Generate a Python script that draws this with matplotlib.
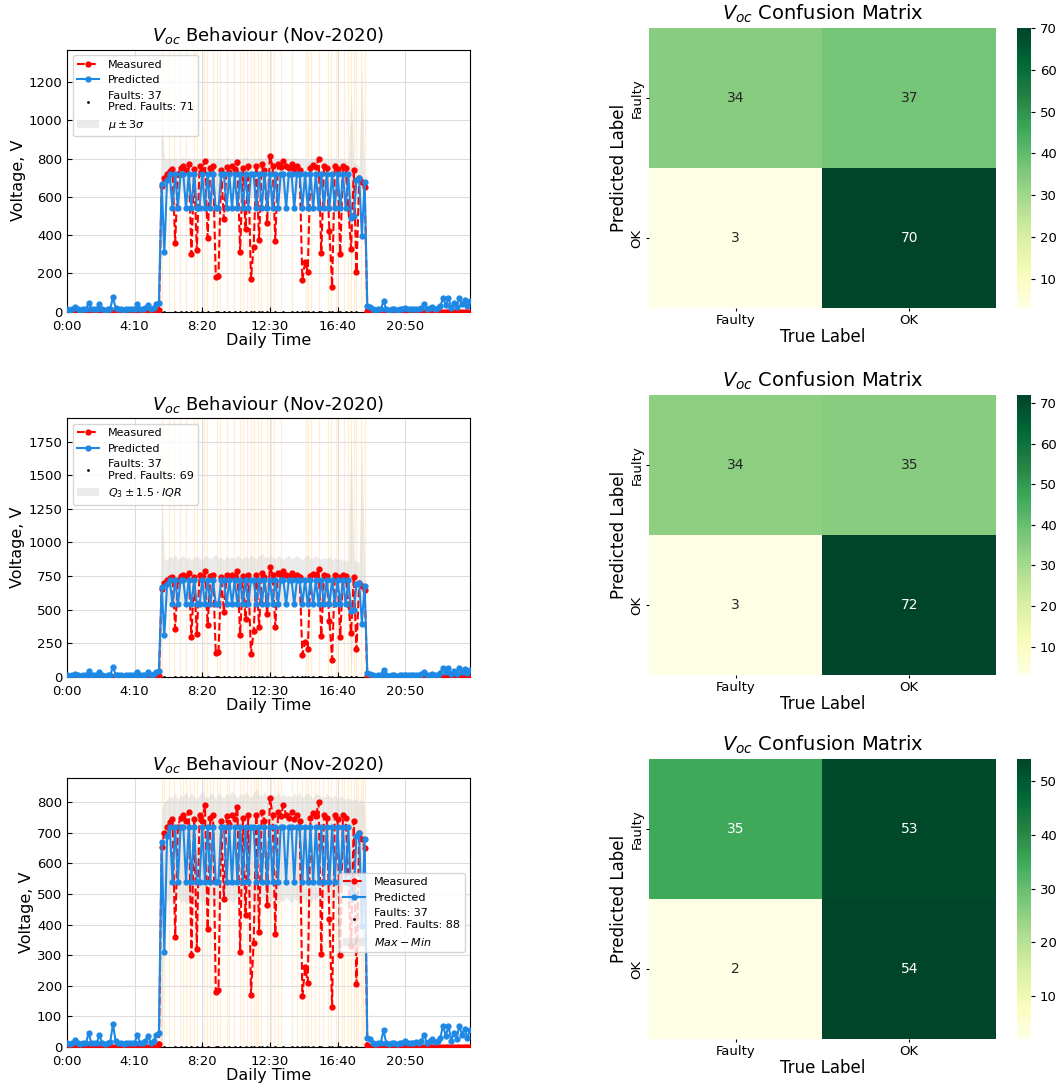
import numpy as np
import matplotlib
matplotlib.use("Agg")
import matplotlib.pyplot as plt
from matplotlib.lines import Line2D
from matplotlib.patches import Patch
import seaborn as sns

# === DATA (10-min samples, index 0 = 0:00) ===
meas_day = [10, 655, 700, 720, 735, 745, 360, 720, 750, 760,
            740, 770, 300, 745, 320, 760, 740, 790, 385, 750,
            760, 180, 185, 740, 485, 755, 730, 760, 745, 785,
            310, 750, 430, 760, 170, 340, 760, 375, 770, 740,
            465, 815, 760, 370, 770, 755, 790, 760, 750, 770,
            745, 760, 740, 165, 260, 210, 750, 765, 755, 800,
            305, 760, 750, 420, 130, 760, 745, 300, 760, 750,
            540, 330, 740, 205, 700, 680, 650, 5]
pred_am = [12, 10, 14, 22, 12, 10, 14, 12, 45, 14,
           12, 12, 40, 12, 10, 14, 16, 75, 18, 12,
           12, 10, 12, 14, 12, 14, 40, 12, 12, 18,
           35, 14, 20, 40]
pred_day = [45, 670, 310, 690, 720, 540, 720, 540, 720, 720,
            540, 720, 540, 720, 540, 540, 720, 540, 720, 540,
            720, 540, 540, 720, 720, 540, 720, 540, 720, 540,
            720, 540, 720, 540, 720, 720, 540, 720, 540, 720,
            540, 720, 540, 720, 540, 720, 720, 540, 720, 720,
            540, 720, 720, 540, 720, 540, 720, 540, 720, 540,
            720, 540, 720, 540, 720, 540, 720, 540, 720, 540,
            720, 490, 500, 690, 700, 395, 680, 30]
pred_pm = [25, 12, 10, 12, 14, 55, 12, 10, 12, 12,
           10, 14, 12, 18, 12, 14, 12, 16, 14, 20,
           40, 14, 18, 25, 16, 18, 30, 70, 35, 70,
           20, 45, 25, 70, 40, 60, 30, 55]

# bands over the daytime samples (index 34..111)
std_upper = [60, 1050, 800, 790, 800, 795, 805, 790, 800, 810,
             795, 805, 790, 800, 795, 805, 790, 800, 810, 795,
             800, 790, 805, 800, 795, 810, 800, 790, 805, 800,
             795, 800, 810, 800, 790, 805, 800, 810, 795, 805,
             800, 825, 810, 800, 805, 795, 800, 810, 800, 795,
             805, 800, 795, 805, 800, 790, 800, 805, 795, 800,
             810, 800, 790, 800, 795, 805, 790, 800, 795, 790,
             785, 1160, 780, 770, 760, 1275, 740, 50]
std_lower = [0, 300, 640, 630, 620, 600, 610, 630, 640, 620,
             610, 600, 620, 640, 630, 610, 600, 620, 630, 640,
             620, 610, 600, 630, 640, 620, 610, 630, 620, 600,
             610, 630, 640, 620, 600, 610, 630, 620, 640, 630,
             610, 620, 600, 630, 640, 620, 610, 600, 630, 620,
             640, 610, 630, 620, 600, 630, 640, 610, 620, 630,
             600, 620, 640, 630, 610, 620, 600, 630, 620, 610,
             600, 150, 590, 580, 600, 620, 600, 0]
iqr_upper = [80, 1320, 880, 870, 900, 885, 910, 875, 890, 905,
             880, 895, 870, 890, 900, 885, 875, 905, 890, 880,
             895, 910, 880, 890, 870, 900, 885, 895, 880, 905,
             890, 875, 900, 885, 910, 890, 880, 900, 920, 895,
             885, 905, 890, 880, 900, 890, 875, 895, 905, 880,
             890, 900, 885, 870, 895, 910, 880, 890, 900, 885,
             875, 890, 880, 895, 870, 885, 875, 880, 865, 870,
             860, 1815, 870, 860, 850, 1745, 840, 60]
iqr_lower = [0, 250, 560, 550, 570, 540, 560, 575, 550, 560,
             545, 565, 560, 550, 570, 555, 560, 540, 565, 570,
             550, 560, 545, 570, 560, 555, 565, 550, 560, 570,
             545, 560, 575, 550, 560, 565, 540, 560, 570, 555,
             560, 550, 565, 570, 545, 560, 555, 570, 560, 550,
             565, 560, 545, 570, 555, 560, 550, 565, 560, 570,
             545, 560, 555, 565, 550, 560, 570, 545, 560, 550,
             540, 0, 550, 540, 560, 600, 540, 0]
mm_upper = [60, 780, 800, 810, 820, 815, 830, 810, 825, 820,
            835, 815, 830, 820, 810, 825, 840, 820, 815, 830,
            825, 810, 835, 820, 815, 830, 820, 840, 825, 815,
            830, 820, 835, 825, 815, 830, 845, 825, 820, 835,
            815, 830, 825, 820, 835, 815, 830, 820, 825, 815,
            830, 820, 835, 815, 825, 830, 820, 815, 830, 825,
            820, 815, 830, 820, 815, 825, 810, 820, 815, 810,
            815, 805, 812, 810, 805, 812, 790, 60]
mm_lower = [0, 0, 480, 470, 490, 460, 480, 495, 470, 480,
            465, 485, 480, 470, 490, 475, 480, 460, 485, 490,
            470, 480, 465, 490, 480, 475, 485, 470, 480, 490,
            465, 480, 495, 470, 480, 485, 460, 480, 490, 475,
            480, 470, 485, 490, 465, 480, 475, 490, 480, 470,
            485, 480, 465, 490, 475, 480, 470, 485, 480, 490,
            465, 480, 475, 485, 470, 480, 490, 465, 480, 470,
            400, 330, 380, 360, 340, 350, 300, 0]

fault_idx = [36, 40, 42, 44, 46, 48, 50, 52, 55, 56, 58, 60, 62, 64, 66, 68,
             69, 71, 72, 74, 77, 80, 83, 85, 87, 88, 89, 91, 93, 94, 97, 98,
             100, 101, 103, 105, 107]

# predicted-fault times (minutes) for each method
pred_t_std = [352, 376, 394, 417, 440, 468, 481, 508, 518, 540, 555, 567, 592,
              617, 640, 652, 666, 679, 691, 706, 716, 740, 753, 765, 790, 830,
              883, 889, 901, 930, 963, 975, 994, 1000, 1025, 1040, 1050, 1060,
              1068, 1087, 1102]
pred_t_iqr = [352, 376, 394, 417, 440, 468, 481, 508, 518, 555, 567, 592,
              617, 640, 652, 666, 679, 691, 706, 716, 740, 753, 765, 790,
              883, 889, 901, 930, 963, 975, 994, 1000, 1025, 1040, 1050, 1060,
              1068, 1087, 1102]
pred_t_mm = [352, 360, 376, 394, 417, 430, 440, 455, 468, 481, 508, 518, 530,
             540, 555, 567, 592, 600, 617, 640, 652, 666, 679, 691, 700, 706,
             716, 740, 753, 765, 780, 790, 830, 850, 870, 883, 889, 901, 915,
             930, 945, 963, 975, 994, 1000, 1015, 1025, 1040, 1050, 1060, 1068,
             1075, 1087, 1095, 1102]

cm_std = [[34, 37], [3, 70]]
cm_iqr = [[34, 35], [3, 72]]
cm_mm = [[35, 53], [2, 54]]
cm_labels = ["Faulty", "OK"]

tick_pos = [0, 250, 500, 750, 1000, 1250]
tick_lab = ["0:00", "4:10", "8:20", "12:30", "16:40", "20:50"]

measured = np.array([0] * 34 + meas_day + [0] * 38, dtype=float)
predicted = np.array(pred_am + pred_day + pred_pm, dtype=float)
t = np.arange(len(measured)) * 10
t_day = t[34:112]

panels = [
    (std_upper, std_lower, pred_t_std, 71, r"$\mu \pm 3\sigma$", 1370, "upper left", cm_std),
    (iqr_upper, iqr_lower, pred_t_iqr, 69, r"$Q_3 \pm 1.5 \cdot IQR$", 1925, "upper left", cm_iqr),
    (mm_upper, mm_lower, pred_t_mm, 88, r"$Max - Min$", 880, "center right", cm_mm),
]

fig = plt.figure(figsize=(10.61, 10.86), dpi=100)
left_boxes = [(0.0631, 0.7130, 0.3800, 0.2413),
              (0.0631, 0.3766, 0.3800, 0.2385),
              (0.0631, 0.0360, 0.3800, 0.2477)]
heat_boxes = [(0.6117, 0.7164, 0.3270, 0.2578),
              (0.6117, 0.3785, 0.3270, 0.2578),
              (0.6117, 0.0430, 0.3270, 0.2578)]

blue = "#1e88e5"
for i, (up, lo, pt, npred, band_lab, ytop, loc, cm) in enumerate(panels):
    ax = fig.add_axes(left_boxes[i])
    for x in pt:
        ax.axvline(x, color="orange", alpha=0.18, lw=0.9, zorder=0)
    ax.fill_between(t_day, lo, up, color="lightgray", alpha=0.45, lw=0, zorder=1)
    ax.plot(t, measured, "--", color="red", marker="o", ms=3.5, lw=1.5, zorder=3)
    ax.plot(t, predicted, "-", color=blue, marker="o", ms=3.5, lw=1.5, zorder=4)
    ax.plot(t[fault_idx], np.zeros(len(fault_idx)), ".", color="black", ms=2, zorder=5)
    ax.set_xlim(0, 1490)
    ax.set_ylim(0, ytop)
    ax.set_xticks(tick_pos)
    ax.set_xticklabels(tick_lab)
    ax.tick_params(direction="in", labelsize=9.5)
    ax.tick_params(axis="x", pad=6)
    ax.grid(True, color="#dddddd", lw=0.8)
    ax.set_axisbelow(True)
    ax.set_title(r"$V_{oc}$ Behaviour (Nov-2020)", fontsize=13)
    ax.set_xlabel("Daily Time", fontsize=11.5, labelpad=0)
    ax.set_ylabel("Voltage, V", fontsize=11.5, labelpad=2)

    handles = [Line2D([], [], ls="--", color="red", marker="o", ms=3.5, lw=1.5),
               Line2D([], [], ls="-", color=blue, marker="o", ms=3.5, lw=1.5),
               Line2D([], [], ls="none", color="black", marker=".", ms=2),
               Patch(color="lightgray", alpha=0.45, lw=0)]
    labels = ["Measured", "Predicted",
              f"Faults: 37\nPred. Faults: {npred}", band_lab]
    ax.legend(handles, labels, loc=loc, fontsize=8)

    hax = fig.add_axes(heat_boxes[i])
    cax = fig.add_axes((0.9585, heat_boxes[i][1], 0.0132, heat_boxes[i][3]))
    sns.heatmap(np.array(cm), annot=True, fmt="d", cmap="YlGn", ax=hax, cbar_ax=cax,
                xticklabels=cm_labels, yticklabels=cm_labels, annot_kws={"size": 10})
    hax.set_yticklabels(cm_labels, rotation=90, va="center", fontsize=9.5)
    hax.set_xticklabels(cm_labels, fontsize=9.5)
    hax.tick_params(length=2, pad=2)
    hax.set_title(r"$V_{oc}$ Confusion Matrix", fontsize=14)
    hax.set_xlabel("True Label", fontsize=12, labelpad=1)
    hax.set_ylabel("Predicted Label", fontsize=12, labelpad=2)
    cax.tick_params(labelsize=9.5, length=3)

fig.savefig("out.png", dpi=100)
